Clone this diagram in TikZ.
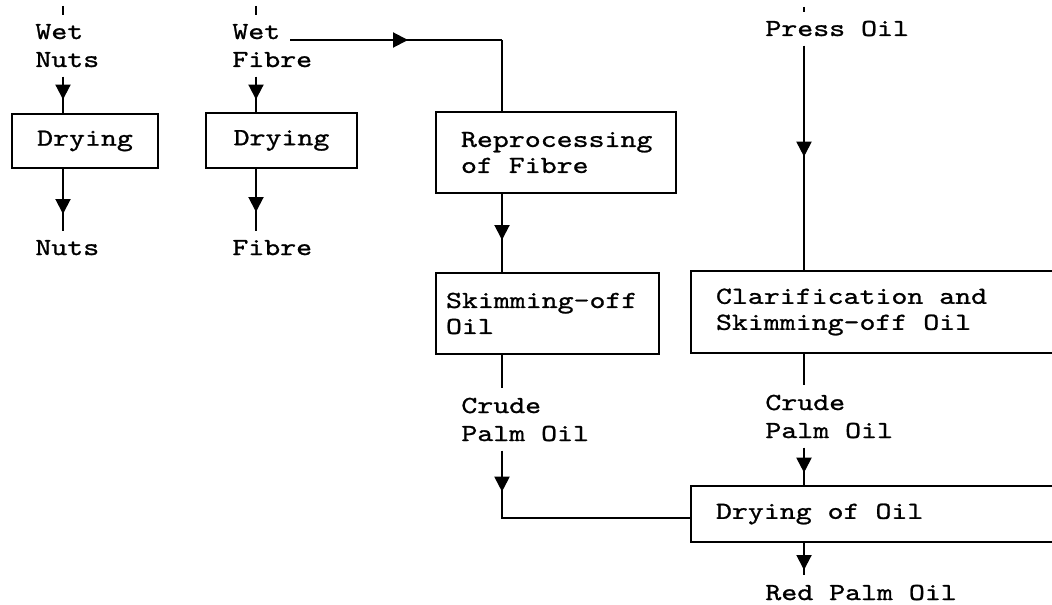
\documentclass[tikz,border=0pt]{standalone}
\usepackage{fontspec}
\newfontfamily\tw[FakeBold=1,FakeStretch=1.24,WordSpace={1,0,0}]{lmmono10-regular.otf}
\newcommand\twfont[1]{\tw\fontsize{12.25pt}{#1}\selectfont\spaceskip=7.97pt plus 0pt minus 0pt\relax}
\usetikzlibrary{arrows.meta,decorations.markings}
\begin{document}
\begin{tikzpicture}[x=0.5pt,y=-0.5pt,
  lbl/.style={font=\twfont{14pt}, inner xsep=0pt, inner ysep=4.5pt, align=left, anchor=base west},
  box/.style={draw, line width=1pt, anchor=north west, inner ysep=0pt,
    font=\twfont{13pt}, execute at begin node={\spaceskip=7.97pt plus 0pt minus 0pt\relax}},
  lbox/.style={box, align=left},
  conn/.style={line width=1pt},
  thinconn/.style={line width=0.6pt},
  arrowat/.style={postaction={decorate}, decoration={markings,
    mark=at position #1 with {\arrow{Triangle[width=7.5pt,length=7.5pt]}}}}]
\useasboundingbox (0,0) rectangle (1052,604);
\clip (0,0) rectangle (1052,604);

% column positions
\coordinate (xa) at (63,0);
\coordinate (xb) at (256,0);
\coordinate (xc) at (502,0);
\coordinate (xd) at (804,0);

% labels (base = baseline of last line)
\node[lbl] (wn) at (35,67) {Wet\\Nuts};
\node[lbl] (wf) at (232,67) {Wet\\Fibre};
\node[lbl] (nuts) at (35,255) {Nuts};
\node[lbl] (fibre) at (232,255) {Fibre};
\node[lbl] (press) at (765,36) {Press Oil};
\node[lbl] (cl) at (461,441) {Crude\\Palm Oil};
\node[lbl] (cr) at (765,438) {Crude\\Palm Oil};
\node[lbl] (red) at (765,600) {Red Palm Oil};

% boxes
\node[box, minimum width=73pt, minimum height=27pt] (d1) at (11,113) {Drying};
\node[box, minimum width=75.5pt, minimum height=27.5pt] (d2) at (205,112) {Drying};
\node[lbox, inner xsep=12.5pt, text width=95pt, minimum height=40.5pt] (rep) at (435,111) {Reprocessing\\of Fibre};
\node[lbox, inner xsep=5pt, text width=101.5pt, minimum height=40.5pt] (skim) at (435,272) {Skimming-off\\Oil};
\node[lbox, inner xsep=12.5pt, text width=165pt, minimum height=41pt] (clar) at (690,270) {Clarification and\\Skimming-off Oil};
\node[lbox, inner xsep=12.5pt, text width=165pt, minimum height=28pt] (doil) at (690,485) {Drying of Oil};

% corner coordinates
\coordinate (h0) at (290,40);
\coordinate (k1) at (502,40);
\coordinate (k2) at (502,518);
\coordinate (sa) at (63,6);
\coordinate (sb) at (256,6);
\coordinate (sd) at (804,7);

% stubs
\draw[thinconn] (sa) -- (wn.north -| xa);
\draw[thinconn] (sb) -- (wf.north -| xb);
\draw[thinconn] (sd) -- ++(0,5);

% connectors
\draw[conn, arrowat=11.5pt] (wn.south -| xa) -- (d1.north -| xa);
\draw[conn, arrowat=22.5pt] (d1.south -| xa) -- (nuts.north -| xa);
\draw[conn, arrowat=11.5pt] (wf.south -| xb) -- (d2.north -| xb);
\draw[conn, arrowat=21.5pt] (d2.south -| xb) -- (fibre.north -| xb);
\draw[conn, arrowat=59pt] (h0) -- (k1);
\draw[thinconn] (k1) -- (rep.north -| xc);
\draw[conn, arrowat=23pt] (rep.south -| xc) -- (skim.north -| xc);
\draw[thinconn] (skim.south -| xc) -- (cl.north -| xc);
\draw[conn, arrowat=20.5pt] (cl.south -| xc) -- (k2) -- (k2 -| doil.west);
\draw[conn, arrowat=55.5pt] (press.south -| xd) -- (clar.north -| xd);
\draw[conn] (clar.south -| xd) -- (cr.north -| xd);
\draw[conn, arrowat=12.5pt] (cr.south -| xd) -- (doil.north -| xd);
\draw[conn, arrowat=13.5pt] (doil.south -| xd) -- (red.north -| xd);
\end{tikzpicture}
\end{document}
